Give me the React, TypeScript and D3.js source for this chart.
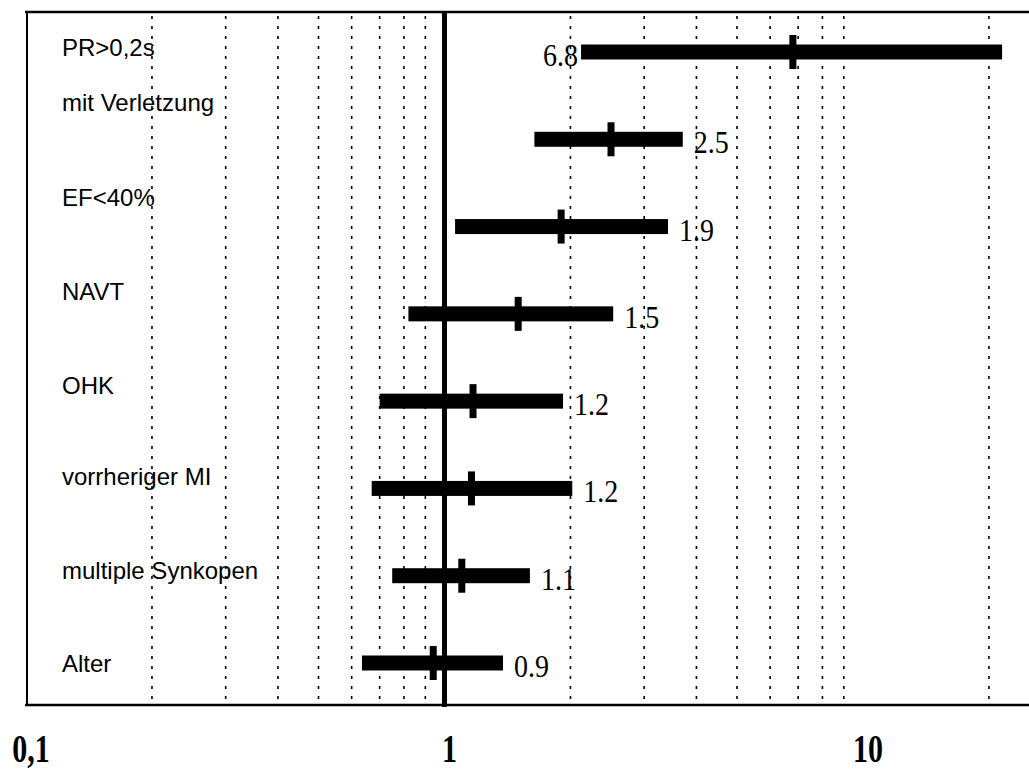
import React from "react";
import * as d3 from "d3";

// Odds ratios with confidence limits per risk factor
const categories = [
  "PR>0,2s",
  "mit Verletzung",
  "EF<40%",
  "NAVT",
  "OHK",
  "vorrheriger MI",
  "multiple Synkopen",
  "Alter",
];
const estimate = [6.8, 2.5, 1.9, 1.5, 1.17, 1.16, 1.1, 0.94];
const lower = [2.12, 1.64, 1.06, 0.82, 0.7, 0.67, 0.75, 0.635];
const upper = [21.5, 3.71, 3.42, 2.53, 1.92, 2.02, 1.6, 1.38];

// Axis
const axisTicks = [0.1, 1, 10];
const axisTickText = ["0,1", "1", "10"];
const gridValues = [0.2, 0.3, 0.4, 0.5, 0.6, 0.7, 0.8, 0.9, 2, 3, 4, 5, 6, 7, 8, 9, 20];

// Layout
const W = 1029;
const H = 771;
const TOP = 12;
const BOTTOM = 705;
const LEFT = 26;
const labelShift = [4, -28, -21, -14, -7, -3, 3, 9];

export default function App() {
  const x = d3.scaleLog().domain([0.1, 25]).range([LEFT, 1029.5]);
  const y = d3.scalePoint<string>().domain(categories).range([52, 663]);
  const fmt = d3.format(".1f");
  const barH = 15;
  const tickW = 7;
  const tickH = 34;

  return (
    <svg
      width={W}
      height={H}
      style={{ position: "absolute", left: 0, top: 0, background: "#fff" }}
    >
      <rect x={0} y={0} width={W} height={H} fill="#fff" />
      {/* dotted grid */}
      {gridValues.map((v) => (
        <line
          key={"g" + v}
          x1={x(v)}
          x2={x(v)}
          y1={TOP + 4}
          y2={BOTTOM}
          stroke="#000"
          strokeWidth={1.6}
          strokeDasharray="3 7"
        />
      ))}
      {/* frame */}
      <line x1={LEFT - 1} x2={W} y1={TOP} y2={TOP} stroke="#000" strokeWidth={2.5} />
      <line x1={LEFT - 1} x2={W} y1={BOTTOM} y2={BOTTOM} stroke="#000" strokeWidth={2.5} />
      <line x1={LEFT + 1} x2={LEFT + 1} y1={TOP} y2={BOTTOM} stroke="#000" strokeWidth={2} />
      {/* reference line at 1 */}
      <line x1={x(1)} x2={x(1)} y1={TOP} y2={BOTTOM + 2} stroke="#000" strokeWidth={5} />

      {/* row labels */}
      {categories.map((c, i) => (
        <text
          key={"l" + c}
          x={62}
          y={(y(c) as number) + labelShift[i]}
          fontFamily="'Liberation Sans', Arial, sans-serif"
          fontSize={24}
          fill="#000"
        >
          {c}
        </text>
      ))}

      {/* confidence bars, estimate ticks, value labels */}
      {categories.map((c, i) => {
        const cy = y(c) as number;
        const x0 = x(lower[i]);
        const x1 = x(upper[i]);
        const xe = x(estimate[i]);
        const rightSide = x1 + 50 < W;
        const tx = rightSide ? x1 + 11 : x0 - 3;
        const ty = cy + 14;
        return (
          <g key={"b" + c}>
            <rect x={x0} y={cy - barH / 2} width={x1 - x0} height={barH} fill="#000" />
            <rect x={xe - tickW / 2} y={cy - tickH / 2} width={tickW} height={tickH} fill="#000" />
            <text
              transform={`translate(${tx},${ty}) scale(1,1.15)`}
              textAnchor={rightSide ? "start" : "end"}
              fontFamily="'Liberation Serif', 'Times New Roman', serif"
              fontSize={28}
              fill="#000"
            >
              {fmt(estimate[i])}
            </text>
          </g>
        );
      })}

      {/* axis labels */}
      {axisTicks.map((v, i) => (
        <text
          key={"t" + v}
          transform={`translate(${x(v) + 5},762) scale(1,1.3)`}
          textAnchor="middle"
          fontFamily="'Liberation Serif', 'Times New Roman', serif"
          fontWeight="bold"
          fontSize={30}
          fill="#000"
        >
          {axisTickText[i]}
        </text>
      ))}
    </svg>
  );
}
